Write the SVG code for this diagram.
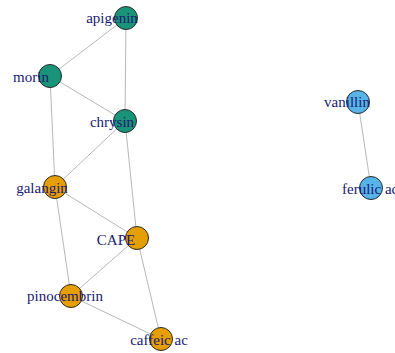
<svg xmlns="http://www.w3.org/2000/svg" width="395" height="353" viewBox="0 0 395 353">
<style>
.e{stroke:#b8b8b8;stroke-width:1;fill:none}
.n{stroke:#2b2b2b;stroke-width:1}
.g{fill:#1a9478}
.o{fill:#e69f00}
.b{fill:#56b4e9}
.t{font-family:"Liberation Serif","Times New Roman",serif;font-size:15px;fill:#1a1a72;text-anchor:middle}
</style>
<rect width="395" height="353" fill="#ffffff"/>
<g id="connectors">
<line class="e" x1="126" y1="18" x2="50" y2="76"/>
<line class="e" x1="126" y1="18" x2="125" y2="121"/>
<line class="e" x1="50" y1="76" x2="125" y2="121"/>
<line class="e" x1="50" y1="76" x2="55" y2="187"/>
<line class="e" x1="125" y1="121" x2="55" y2="187"/>
<line class="e" x1="125" y1="121" x2="137" y2="238"/>
<line class="e" x1="55" y1="187" x2="137" y2="238"/>
<line class="e" x1="55" y1="187" x2="71" y2="296"/>
<line class="e" x1="137" y1="238" x2="71" y2="296"/>
<line class="e" x1="137" y1="238" x2="161" y2="339"/>
<line class="e" x1="71" y1="296" x2="161" y2="339"/>
<line class="e" x1="358" y1="102" x2="371" y2="188"/>
</g>
<g id="apigenin"><circle class="n g" cx="126" cy="18" r="11.5"/><text class="t" x="112" y="23">apigenin</text></g>
<g id="morin"><circle class="n g" cx="50" cy="76" r="11.5"/><text class="t" x="31" y="82">morin</text></g>
<g id="chrysin"><circle class="n g" cx="125" cy="121" r="11.5"/><text class="t" x="112" y="127">chrysin</text></g>
<g id="galangin"><circle class="n o" cx="55" cy="187" r="11.5"/><text class="t" x="42" y="193">galangin</text></g>
<g id="CAPE"><circle class="n o" cx="137" cy="238" r="11.5"/><text class="t" x="116" y="245">CAPE</text></g>
<g id="pinocembrin"><circle class="n o" cx="71" cy="296" r="11.5"/><text class="t" x="65" y="301">pinocembrin</text></g>
<g id="caffeic_ac"><circle class="n o" cx="161" cy="339" r="11.5"/><text class="t" x="159" y="345">caffeic ac</text></g>
<g id="vanillin"><circle class="n b" cx="358" cy="102" r="11.5"/><text class="t" x="347" y="107">vanillin</text></g>
<g id="ferulic_ac"><circle class="n b" cx="371" cy="188" r="11.5"/><text class="t" x="342" y="194" style="text-anchor:start">ferulic ac</text></g>
</svg>
